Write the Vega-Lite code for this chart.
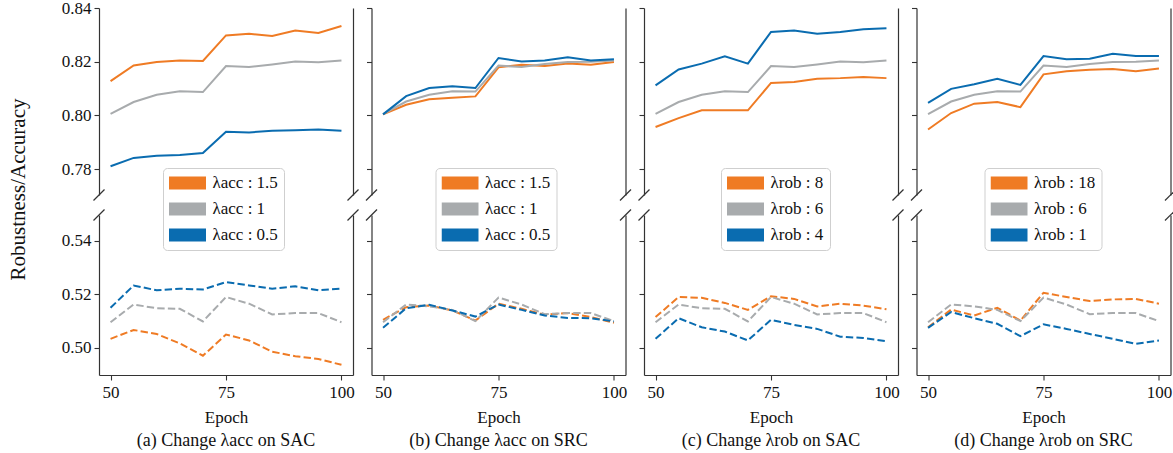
{
"$schema": "https://vega.github.io/schema/vega-lite/v6.json",
"background": "white",
"padding": {"left": 7, "top": -1, "right": 0, "bottom": 0},
"datasets": {
"a_top": [
{"lam":"1.5","epoch":50,"value":0.8128},{"lam":"1.5","epoch":55,"value":0.8186},{"lam":"1.5","epoch":60,"value":0.8199},{"lam":"1.5","epoch":65,"value":0.8205},{"lam":"1.5","epoch":70,"value":0.8203},{"lam":"1.5","epoch":75,"value":0.8298},{"lam":"1.5","epoch":80,"value":0.8304},{"lam":"1.5","epoch":85,"value":0.8296},{"lam":"1.5","epoch":90,"value":0.8316},{"lam":"1.5","epoch":95,"value":0.8307},{"lam":"1.5","epoch":100,"value":0.8333},
{"lam":"1","epoch":50,"value":0.8006},{"lam":"1","epoch":55,"value":0.8050},{"lam":"1","epoch":60,"value":0.8077},{"lam":"1","epoch":65,"value":0.8090},{"lam":"1","epoch":70,"value":0.8087},{"lam":"1","epoch":75,"value":0.8184},{"lam":"1","epoch":80,"value":0.8180},{"lam":"1","epoch":85,"value":0.8190},{"lam":"1","epoch":90,"value":0.8201},{"lam":"1","epoch":95,"value":0.8198},{"lam":"1","epoch":100,"value":0.8205},
{"lam":"0.5","epoch":50,"value":0.7811},{"lam":"0.5","epoch":55,"value":0.7842},{"lam":"0.5","epoch":60,"value":0.7850},{"lam":"0.5","epoch":65,"value":0.7853},{"lam":"0.5","epoch":70,"value":0.7860},{"lam":"0.5","epoch":75,"value":0.7939},{"lam":"0.5","epoch":80,"value":0.7937},{"lam":"0.5","epoch":85,"value":0.7943},{"lam":"0.5","epoch":90,"value":0.7945},{"lam":"0.5","epoch":95,"value":0.7948},{"lam":"0.5","epoch":100,"value":0.7943}
],
"a_bot": [
{"lam":"1.5","epoch":50,"value":0.5034},{"lam":"1.5","epoch":55,"value":0.5067},{"lam":"1.5","epoch":60,"value":0.5052},{"lam":"1.5","epoch":65,"value":0.5017},{"lam":"1.5","epoch":70,"value":0.4971},{"lam":"1.5","epoch":75,"value":0.5050},{"lam":"1.5","epoch":80,"value":0.5028},{"lam":"1.5","epoch":85,"value":0.4986},{"lam":"1.5","epoch":90,"value":0.4969},{"lam":"1.5","epoch":95,"value":0.4959},{"lam":"1.5","epoch":100,"value":0.4937},
{"lam":"1","epoch":50,"value":0.5096},{"lam":"1","epoch":55,"value":0.5162},{"lam":"1","epoch":60,"value":0.5148},{"lam":"1","epoch":65,"value":0.5146},{"lam":"1","epoch":70,"value":0.5099},{"lam":"1","epoch":75,"value":0.5190},{"lam":"1","epoch":80,"value":0.5165},{"lam":"1","epoch":85,"value":0.5125},{"lam":"1","epoch":90,"value":0.5130},{"lam":"1","epoch":95,"value":0.5130},{"lam":"1","epoch":100,"value":0.5096},
{"lam":"0.5","epoch":50,"value":0.5150},{"lam":"0.5","epoch":55,"value":0.5233},{"lam":"0.5","epoch":60,"value":0.5215},{"lam":"0.5","epoch":65,"value":0.5221},{"lam":"0.5","epoch":70,"value":0.5218},{"lam":"0.5","epoch":75,"value":0.5246},{"lam":"0.5","epoch":80,"value":0.5233},{"lam":"0.5","epoch":85,"value":0.5221},{"lam":"0.5","epoch":90,"value":0.5230},{"lam":"0.5","epoch":95,"value":0.5215},{"lam":"0.5","epoch":100,"value":0.5221}
],
"b_top": [
{"lam":"1.5","epoch":50,"value":0.8004},{"lam":"1.5","epoch":55,"value":0.8040},{"lam":"1.5","epoch":60,"value":0.8060},{"lam":"1.5","epoch":65,"value":0.8066},{"lam":"1.5","epoch":70,"value":0.8071},{"lam":"1.5","epoch":75,"value":0.8179},{"lam":"1.5","epoch":80,"value":0.8189},{"lam":"1.5","epoch":85,"value":0.8184},{"lam":"1.5","epoch":90,"value":0.8193},{"lam":"1.5","epoch":95,"value":0.8189},{"lam":"1.5","epoch":100,"value":0.8199},
{"lam":"1","epoch":50,"value":0.8005},{"lam":"1","epoch":55,"value":0.8052},{"lam":"1","epoch":60,"value":0.8077},{"lam":"1","epoch":65,"value":0.8090},{"lam":"1","epoch":70,"value":0.8089},{"lam":"1","epoch":75,"value":0.8186},{"lam":"1","epoch":80,"value":0.8180},{"lam":"1","epoch":85,"value":0.8192},{"lam":"1","epoch":90,"value":0.8199},{"lam":"1","epoch":95,"value":0.8200},{"lam":"1","epoch":100,"value":0.8205},
{"lam":"0.5","epoch":50,"value":0.8004},{"lam":"0.5","epoch":55,"value":0.8072},{"lam":"0.5","epoch":60,"value":0.8102},{"lam":"0.5","epoch":65,"value":0.8109},{"lam":"0.5","epoch":70,"value":0.8102},{"lam":"0.5","epoch":75,"value":0.8214},{"lam":"0.5","epoch":80,"value":0.8201},{"lam":"0.5","epoch":85,"value":0.8205},{"lam":"0.5","epoch":90,"value":0.8217},{"lam":"0.5","epoch":95,"value":0.8205},{"lam":"0.5","epoch":100,"value":0.8209}
],
"b_bot": [
{"lam":"1.5","epoch":50,"value":0.5105},{"lam":"1.5","epoch":55,"value":0.5152},{"lam":"1.5","epoch":60,"value":0.5158},{"lam":"1.5","epoch":65,"value":0.5140},{"lam":"1.5","epoch":70,"value":0.5102},{"lam":"1.5","epoch":75,"value":0.5165},{"lam":"1.5","epoch":80,"value":0.5146},{"lam":"1.5","epoch":85,"value":0.5124},{"lam":"1.5","epoch":90,"value":0.5130},{"lam":"1.5","epoch":95,"value":0.5115},{"lam":"1.5","epoch":100,"value":0.5094},
{"lam":"1","epoch":50,"value":0.5096},{"lam":"1","epoch":55,"value":0.5162},{"lam":"1","epoch":60,"value":0.5155},{"lam":"1","epoch":65,"value":0.5142},{"lam":"1","epoch":70,"value":0.5100},{"lam":"1","epoch":75,"value":0.5188},{"lam":"1","epoch":80,"value":0.5162},{"lam":"1","epoch":85,"value":0.5126},{"lam":"1","epoch":90,"value":0.5130},{"lam":"1","epoch":95,"value":0.5130},{"lam":"1","epoch":100,"value":0.5100},
{"lam":"0.5","epoch":50,"value":0.5075},{"lam":"0.5","epoch":55,"value":0.5148},{"lam":"0.5","epoch":60,"value":0.5161},{"lam":"0.5","epoch":65,"value":0.5140},{"lam":"0.5","epoch":70,"value":0.5117},{"lam":"0.5","epoch":75,"value":0.5162},{"lam":"0.5","epoch":80,"value":0.5142},{"lam":"0.5","epoch":85,"value":0.5121},{"lam":"0.5","epoch":90,"value":0.5112},{"lam":"0.5","epoch":95,"value":0.5111},{"lam":"0.5","epoch":100,"value":0.5099}
],
"c_top": [
{"lam":"8","epoch":50,"value":0.7957},{"lam":"8","epoch":55,"value":0.7990},{"lam":"8","epoch":60,"value":0.8019},{"lam":"8","epoch":65,"value":0.8019},{"lam":"8","epoch":70,"value":0.8019},{"lam":"8","epoch":75,"value":0.8121},{"lam":"8","epoch":80,"value":0.8125},{"lam":"8","epoch":85,"value":0.8137},{"lam":"8","epoch":90,"value":0.8139},{"lam":"8","epoch":95,"value":0.8143},{"lam":"8","epoch":100,"value":0.8139},
{"lam":"6","epoch":50,"value":0.8006},{"lam":"6","epoch":55,"value":0.8050},{"lam":"6","epoch":60,"value":0.8077},{"lam":"6","epoch":65,"value":0.8090},{"lam":"6","epoch":70,"value":0.8087},{"lam":"6","epoch":75,"value":0.8184},{"lam":"6","epoch":80,"value":0.8180},{"lam":"6","epoch":85,"value":0.8190},{"lam":"6","epoch":90,"value":0.8201},{"lam":"6","epoch":95,"value":0.8198},{"lam":"6","epoch":100,"value":0.8205},
{"lam":"4","epoch":50,"value":0.8112},{"lam":"4","epoch":55,"value":0.8171},{"lam":"4","epoch":60,"value":0.8193},{"lam":"4","epoch":65,"value":0.8220},{"lam":"4","epoch":70,"value":0.8193},{"lam":"4","epoch":75,"value":0.8311},{"lam":"4","epoch":80,"value":0.8316},{"lam":"4","epoch":85,"value":0.8304},{"lam":"4","epoch":90,"value":0.8311},{"lam":"4","epoch":95,"value":0.8321},{"lam":"4","epoch":100,"value":0.8325}
],
"c_bot": [
{"lam":"8","epoch":50,"value":0.5115},{"lam":"8","epoch":55,"value":0.5190},{"lam":"8","epoch":60,"value":0.5187},{"lam":"8","epoch":65,"value":0.5168},{"lam":"8","epoch":70,"value":0.5142},{"lam":"8","epoch":75,"value":0.5193},{"lam":"8","epoch":80,"value":0.5183},{"lam":"8","epoch":85,"value":0.5155},{"lam":"8","epoch":90,"value":0.5165},{"lam":"8","epoch":95,"value":0.5158},{"lam":"8","epoch":100,"value":0.5144},
{"lam":"6","epoch":50,"value":0.5096},{"lam":"6","epoch":55,"value":0.5162},{"lam":"6","epoch":60,"value":0.5148},{"lam":"6","epoch":65,"value":0.5146},{"lam":"6","epoch":70,"value":0.5099},{"lam":"6","epoch":75,"value":0.5190},{"lam":"6","epoch":80,"value":0.5165},{"lam":"6","epoch":85,"value":0.5125},{"lam":"6","epoch":90,"value":0.5130},{"lam":"6","epoch":95,"value":0.5130},{"lam":"6","epoch":100,"value":0.5096},
{"lam":"4","epoch":50,"value":0.5034},{"lam":"4","epoch":55,"value":0.5111},{"lam":"4","epoch":60,"value":0.5077},{"lam":"4","epoch":65,"value":0.5061},{"lam":"4","epoch":70,"value":0.5028},{"lam":"4","epoch":75,"value":0.5105},{"lam":"4","epoch":80,"value":0.5086},{"lam":"4","epoch":85,"value":0.5071},{"lam":"4","epoch":90,"value":0.5042},{"lam":"4","epoch":95,"value":0.5037},{"lam":"4","epoch":100,"value":0.5025}
],
"d_top": [
{"lam":"18","epoch":50,"value":0.7948},{"lam":"18","epoch":55,"value":0.8009},{"lam":"18","epoch":60,"value":0.8044},{"lam":"18","epoch":65,"value":0.8050},{"lam":"18","epoch":70,"value":0.8031},{"lam":"18","epoch":75,"value":0.8153},{"lam":"18","epoch":80,"value":0.8165},{"lam":"18","epoch":85,"value":0.8170},{"lam":"18","epoch":90,"value":0.8173},{"lam":"18","epoch":95,"value":0.8165},{"lam":"18","epoch":100,"value":0.8175},
{"lam":"6","epoch":50,"value":0.8005},{"lam":"6","epoch":55,"value":0.8052},{"lam":"6","epoch":60,"value":0.8077},{"lam":"6","epoch":65,"value":0.8090},{"lam":"6","epoch":70,"value":0.8089},{"lam":"6","epoch":75,"value":0.8186},{"lam":"6","epoch":80,"value":0.8180},{"lam":"6","epoch":85,"value":0.8192},{"lam":"6","epoch":90,"value":0.8199},{"lam":"6","epoch":95,"value":0.8200},{"lam":"6","epoch":100,"value":0.8205},
{"lam":"1","epoch":50,"value":0.8047},{"lam":"1","epoch":55,"value":0.8099},{"lam":"1","epoch":60,"value":0.8116},{"lam":"1","epoch":65,"value":0.8137},{"lam":"1","epoch":70,"value":0.8114},{"lam":"1","epoch":75,"value":0.8221},{"lam":"1","epoch":80,"value":0.8209},{"lam":"1","epoch":85,"value":0.8211},{"lam":"1","epoch":90,"value":0.8230},{"lam":"1","epoch":95,"value":0.8221},{"lam":"1","epoch":100,"value":0.8221}
],
"d_bot": [
{"lam":"18","epoch":50,"value":0.5077},{"lam":"18","epoch":55,"value":0.5143},{"lam":"18","epoch":60,"value":0.5121},{"lam":"18","epoch":65,"value":0.5150},{"lam":"18","epoch":70,"value":0.5102},{"lam":"18","epoch":75,"value":0.5206},{"lam":"18","epoch":80,"value":0.5190},{"lam":"18","epoch":85,"value":0.5175},{"lam":"18","epoch":90,"value":0.5181},{"lam":"18","epoch":95,"value":0.5183},{"lam":"18","epoch":100,"value":0.5165},
{"lam":"6","epoch":50,"value":0.5096},{"lam":"6","epoch":55,"value":0.5162},{"lam":"6","epoch":60,"value":0.5155},{"lam":"6","epoch":65,"value":0.5142},{"lam":"6","epoch":70,"value":0.5100},{"lam":"6","epoch":75,"value":0.5188},{"lam":"6","epoch":80,"value":0.5162},{"lam":"6","epoch":85,"value":0.5126},{"lam":"6","epoch":90,"value":0.5130},{"lam":"6","epoch":95,"value":0.5130},{"lam":"6","epoch":100,"value":0.5100},
{"lam":"1","epoch":50,"value":0.5075},{"lam":"1","epoch":55,"value":0.5134},{"lam":"1","epoch":60,"value":0.5111},{"lam":"1","epoch":65,"value":0.5090},{"lam":"1","epoch":70,"value":0.5044},{"lam":"1","epoch":75,"value":0.5088},{"lam":"1","epoch":80,"value":0.5071},{"lam":"1","epoch":85,"value":0.5052},{"lam":"1","epoch":90,"value":0.5034},{"lam":"1","epoch":95,"value":0.5015},{"lam":"1","epoch":100,"value":0.5028}
]
},
"columns": 4,
"spacing": {"row": 20, "column": 18.5},
"bounds": "flush",
"resolve": {"scale": {"color": "independent"}},
"concat": [
{
"width": 254, "height": 187, "data": {"name": "a_top"},
"layer": [
{"mark": {"type": "line", "strokeWidth": 2},
"encoding": {
"x": {"field": "epoch", "type": "quantitative", "scale": {"domain": [47.5, 102.5], "nice": false, "zero": false}, "axis": {"orient": "top", "labels": false, "ticks": false, "title": null}},
"y": {"field": "value", "type": "quantitative", "scale": {"domain": [0.7704, 0.84], "nice": false, "zero": false}, "axis": {"values": [0.78, 0.8, 0.82, 0.84], "format": ".2f", "title": "Robustness/Accuracy", "titleFontSize": 21, "titleX": -71, "titleY": 181, "titleAngle": -90, "titleBaseline": "bottom", "titleAlign": "center"}},
"color": {"field": "lam", "type": "nominal", "scale": {"domain": ["1.5", "1", "0.5"], "range": ["#ef7b24", "#a8abad", "#0a6cb0"]}, "legend": {"orient": "none", "legendX": 64, "legendY": 160, "title": null, "labelExpr": "'λacc : ' + datum.label"}}
}},
{"mark": {"type": "line", "opacity": 0},
"encoding": {
"x": {"field": "epoch", "type": "quantitative", "scale": {"domain": [47.5, 102.5], "nice": false, "zero": false}, "axis": null},
"y": {"field": "value", "type": "quantitative", "scale": {"domain": [0.7704, 0.84], "nice": false, "zero": false}, "axis": {"orient": "right", "labels": false, "ticks": false, "title": null}},
"detail": {"field": "lam", "type": "nominal"}
}},
{"data": {"values": [{}]}, "mark": {"type": "point", "shape": "M-1,1L1,-1", "size": 121, "filled": false, "stroke": "#333", "strokeWidth": 1.2, "opacity": 1},
"encoding": {"x": {"datum": 47.5, "type": "quantitative", "scale": {"domain": [47.5, 102.5], "nice": false, "zero": false}, "axis": null}, "y": {"datum": 0.7704, "type": "quantitative", "scale": {"domain": [0.7704, 0.84], "nice": false, "zero": false}, "axis": null}}},
{"data": {"values": [{}]}, "mark": {"type": "point", "shape": "M-1,1L1,-1", "size": 121, "filled": false, "stroke": "#333", "strokeWidth": 1.2, "opacity": 1},
"encoding": {"x": {"datum": 102.5, "type": "quantitative", "scale": {"domain": [47.5, 102.5], "nice": false, "zero": false}, "axis": null}, "y": {"datum": 0.7704, "type": "quantitative", "scale": {"domain": [0.7704, 0.84], "nice": false, "zero": false}, "axis": null}}}
],
"resolve": {"axis": {"y": "independent"}}
},
{
"width": 254, "height": 187, "data": {"name": "b_top"},
"layer": [
{"mark": {"type": "line", "strokeWidth": 2},
"encoding": {
"x": {"field": "epoch", "type": "quantitative", "scale": {"domain": [47.5, 102.5], "nice": false, "zero": false}, "axis": {"orient": "top", "labels": false, "ticks": false, "title": null}},
"y": {"field": "value", "type": "quantitative", "scale": {"domain": [0.7704, 0.84], "nice": false, "zero": false}, "axis": {"values": [0.78, 0.8, 0.82, 0.84], "labels": false, "title": null}},
"color": {"field": "lam", "type": "nominal", "scale": {"domain": ["1.5", "1", "0.5"], "range": ["#ef7b24", "#a8abad", "#0a6cb0"]}, "legend": {"orient": "none", "legendX": 64, "legendY": 160, "title": null, "labelExpr": "'λacc : ' + datum.label"}}
}},
{"mark": {"type": "line", "opacity": 0},
"encoding": {
"x": {"field": "epoch", "type": "quantitative", "scale": {"domain": [47.5, 102.5], "nice": false, "zero": false}, "axis": null},
"y": {"field": "value", "type": "quantitative", "scale": {"domain": [0.7704, 0.84], "nice": false, "zero": false}, "axis": {"orient": "right", "labels": false, "ticks": false, "title": null}},
"detail": {"field": "lam", "type": "nominal"}
}},
{"data": {"values": [{}]}, "mark": {"type": "point", "shape": "M-1,1L1,-1", "size": 121, "filled": false, "stroke": "#333", "strokeWidth": 1.2, "opacity": 1},
"encoding": {"x": {"datum": 47.5, "type": "quantitative", "scale": {"domain": [47.5, 102.5], "nice": false, "zero": false}, "axis": null}, "y": {"datum": 0.7704, "type": "quantitative", "scale": {"domain": [0.7704, 0.84], "nice": false, "zero": false}, "axis": null}}},
{"data": {"values": [{}]}, "mark": {"type": "point", "shape": "M-1,1L1,-1", "size": 121, "filled": false, "stroke": "#333", "strokeWidth": 1.2, "opacity": 1},
"encoding": {"x": {"datum": 102.5, "type": "quantitative", "scale": {"domain": [47.5, 102.5], "nice": false, "zero": false}, "axis": null}, "y": {"datum": 0.7704, "type": "quantitative", "scale": {"domain": [0.7704, 0.84], "nice": false, "zero": false}, "axis": null}}}
],
"resolve": {"axis": {"y": "independent"}}
},
{
"width": 254, "height": 187, "data": {"name": "c_top"},
"layer": [
{"mark": {"type": "line", "strokeWidth": 2},
"encoding": {
"x": {"field": "epoch", "type": "quantitative", "scale": {"domain": [47.5, 102.5], "nice": false, "zero": false}, "axis": {"orient": "top", "labels": false, "ticks": false, "title": null}},
"y": {"field": "value", "type": "quantitative", "scale": {"domain": [0.7704, 0.84], "nice": false, "zero": false}, "axis": {"values": [0.78, 0.8, 0.82, 0.84], "labels": false, "title": null}},
"color": {"field": "lam", "type": "nominal", "scale": {"domain": ["8", "6", "4"], "range": ["#ef7b24", "#a8abad", "#0a6cb0"]}, "legend": {"orient": "none", "legendX": 77, "legendY": 160, "title": null, "labelExpr": "'λrob : ' + datum.label"}}
}},
{"mark": {"type": "line", "opacity": 0},
"encoding": {
"x": {"field": "epoch", "type": "quantitative", "scale": {"domain": [47.5, 102.5], "nice": false, "zero": false}, "axis": null},
"y": {"field": "value", "type": "quantitative", "scale": {"domain": [0.7704, 0.84], "nice": false, "zero": false}, "axis": {"orient": "right", "labels": false, "ticks": false, "title": null}},
"detail": {"field": "lam", "type": "nominal"}
}},
{"data": {"values": [{}]}, "mark": {"type": "point", "shape": "M-1,1L1,-1", "size": 121, "filled": false, "stroke": "#333", "strokeWidth": 1.2, "opacity": 1},
"encoding": {"x": {"datum": 47.5, "type": "quantitative", "scale": {"domain": [47.5, 102.5], "nice": false, "zero": false}, "axis": null}, "y": {"datum": 0.7704, "type": "quantitative", "scale": {"domain": [0.7704, 0.84], "nice": false, "zero": false}, "axis": null}}},
{"data": {"values": [{}]}, "mark": {"type": "point", "shape": "M-1,1L1,-1", "size": 121, "filled": false, "stroke": "#333", "strokeWidth": 1.2, "opacity": 1},
"encoding": {"x": {"datum": 102.5, "type": "quantitative", "scale": {"domain": [47.5, 102.5], "nice": false, "zero": false}, "axis": null}, "y": {"datum": 0.7704, "type": "quantitative", "scale": {"domain": [0.7704, 0.84], "nice": false, "zero": false}, "axis": null}}}
],
"resolve": {"axis": {"y": "independent"}}
},
{
"width": 254, "height": 187, "data": {"name": "d_top"},
"layer": [
{"mark": {"type": "line", "strokeWidth": 2},
"encoding": {
"x": {"field": "epoch", "type": "quantitative", "scale": {"domain": [47.5, 102.5], "nice": false, "zero": false}, "axis": {"orient": "top", "labels": false, "ticks": false, "title": null}},
"y": {"field": "value", "type": "quantitative", "scale": {"domain": [0.7704, 0.84], "nice": false, "zero": false}, "axis": {"values": [0.78, 0.8, 0.82, 0.84], "labels": false, "title": null}},
"color": {"field": "lam", "type": "nominal", "scale": {"domain": ["18", "6", "1"], "range": ["#ef7b24", "#a8abad", "#0a6cb0"]}, "legend": {"orient": "none", "legendX": 68, "legendY": 160, "title": null, "labelExpr": "'λrob : ' + datum.label"}}
}},
{"mark": {"type": "line", "opacity": 0},
"encoding": {
"x": {"field": "epoch", "type": "quantitative", "scale": {"domain": [47.5, 102.5], "nice": false, "zero": false}, "axis": null},
"y": {"field": "value", "type": "quantitative", "scale": {"domain": [0.7704, 0.84], "nice": false, "zero": false}, "axis": {"orient": "right", "labels": false, "ticks": false, "title": null}},
"detail": {"field": "lam", "type": "nominal"}
}},
{"data": {"values": [{}]}, "mark": {"type": "point", "shape": "M-1,1L1,-1", "size": 121, "filled": false, "stroke": "#333", "strokeWidth": 1.2, "opacity": 1},
"encoding": {"x": {"datum": 47.5, "type": "quantitative", "scale": {"domain": [47.5, 102.5], "nice": false, "zero": false}, "axis": null}, "y": {"datum": 0.7704, "type": "quantitative", "scale": {"domain": [0.7704, 0.84], "nice": false, "zero": false}, "axis": null}}},
{"data": {"values": [{}]}, "mark": {"type": "point", "shape": "M-1,1L1,-1", "size": 121, "filled": false, "stroke": "#333", "strokeWidth": 1.2, "opacity": 1},
"encoding": {"x": {"datum": 102.5, "type": "quantitative", "scale": {"domain": [47.5, 102.5], "nice": false, "zero": false}, "axis": null}, "y": {"datum": 0.7704, "type": "quantitative", "scale": {"domain": [0.7704, 0.84], "nice": false, "zero": false}, "axis": null}}}
],
"resolve": {"axis": {"y": "independent"}}
},
{
"width": 254, "height": 160, "data": {"name": "a_bot"},
"title": {"text": "(a) Change λacc on SAC", "orient": "bottom", "frame": "group", "offset": 7},
"layer": [
{"mark": {"type": "line", "strokeWidth": 2, "strokeDash": [7.4, 3.2]},
"encoding": {
"x": {"field": "epoch", "type": "quantitative", "scale": {"domain": [47.5, 102.5], "nice": false, "zero": false}, "axis": {"orient": "bottom", "values": [50, 75, 100], "title": "Epoch", "titlePadding": 9, "labelPadding": 4}},
"y": {"field": "value", "type": "quantitative", "scale": {"domain": [0.4899, 0.5496], "nice": false, "zero": false}, "axis": {"values": [0.5, 0.52, 0.54], "format": ".2f", "title": null}},
"color": {"field": "lam", "type": "nominal", "scale": {"domain": ["1.5", "1", "0.5"], "range": ["#ef7b24", "#a8abad", "#0a6cb0"]}, "legend": null}
}},
{"mark": {"type": "line", "opacity": 0},
"encoding": {
"x": {"field": "epoch", "type": "quantitative", "scale": {"domain": [47.5, 102.5], "nice": false, "zero": false}},
"y": {"field": "value", "type": "quantitative", "scale": {"domain": [0.4899, 0.5496], "nice": false, "zero": false}, "axis": {"orient": "right", "labels": false, "ticks": false, "title": null}},
"detail": {"field": "lam", "type": "nominal"}
}},
{"data": {"values": [{}]}, "mark": {"type": "point", "shape": "M-1,1L1,-1", "size": 121, "filled": false, "stroke": "#333", "strokeWidth": 1.2, "opacity": 1},
"encoding": {"x": {"datum": 47.5, "type": "quantitative", "scale": {"domain": [47.5, 102.5], "nice": false, "zero": false}}, "y": {"datum": 0.5496, "type": "quantitative", "scale": {"domain": [0.4899, 0.5496], "nice": false, "zero": false}, "axis": null}}},
{"data": {"values": [{}]}, "mark": {"type": "point", "shape": "M-1,1L1,-1", "size": 121, "filled": false, "stroke": "#333", "strokeWidth": 1.2, "opacity": 1},
"encoding": {"x": {"datum": 102.5, "type": "quantitative", "scale": {"domain": [47.5, 102.5], "nice": false, "zero": false}}, "y": {"datum": 0.5496, "type": "quantitative", "scale": {"domain": [0.4899, 0.5496], "nice": false, "zero": false}, "axis": null}}}
],
"resolve": {"axis": {"y": "independent"}}
},
{
"width": 254, "height": 160, "data": {"name": "b_bot"},
"title": {"text": "(b) Change λacc on SRC", "orient": "bottom", "frame": "group", "offset": 7},
"layer": [
{"mark": {"type": "line", "strokeWidth": 2, "strokeDash": [7.4, 3.2]},
"encoding": {
"x": {"field": "epoch", "type": "quantitative", "scale": {"domain": [47.5, 102.5], "nice": false, "zero": false}, "axis": {"orient": "bottom", "values": [50, 75, 100], "title": "Epoch", "titlePadding": 9, "labelPadding": 4}},
"y": {"field": "value", "type": "quantitative", "scale": {"domain": [0.4899, 0.5496], "nice": false, "zero": false}, "axis": {"values": [0.5, 0.52, 0.54], "labels": false, "title": null}},
"color": {"field": "lam", "type": "nominal", "scale": {"domain": ["1.5", "1", "0.5"], "range": ["#ef7b24", "#a8abad", "#0a6cb0"]}, "legend": null}
}},
{"mark": {"type": "line", "opacity": 0},
"encoding": {
"x": {"field": "epoch", "type": "quantitative", "scale": {"domain": [47.5, 102.5], "nice": false, "zero": false}},
"y": {"field": "value", "type": "quantitative", "scale": {"domain": [0.4899, 0.5496], "nice": false, "zero": false}, "axis": {"orient": "right", "labels": false, "ticks": false, "title": null}},
"detail": {"field": "lam", "type": "nominal"}
}},
{"data": {"values": [{}]}, "mark": {"type": "point", "shape": "M-1,1L1,-1", "size": 121, "filled": false, "stroke": "#333", "strokeWidth": 1.2, "opacity": 1},
"encoding": {"x": {"datum": 47.5, "type": "quantitative", "scale": {"domain": [47.5, 102.5], "nice": false, "zero": false}}, "y": {"datum": 0.5496, "type": "quantitative", "scale": {"domain": [0.4899, 0.5496], "nice": false, "zero": false}, "axis": null}}},
{"data": {"values": [{}]}, "mark": {"type": "point", "shape": "M-1,1L1,-1", "size": 121, "filled": false, "stroke": "#333", "strokeWidth": 1.2, "opacity": 1},
"encoding": {"x": {"datum": 102.5, "type": "quantitative", "scale": {"domain": [47.5, 102.5], "nice": false, "zero": false}}, "y": {"datum": 0.5496, "type": "quantitative", "scale": {"domain": [0.4899, 0.5496], "nice": false, "zero": false}, "axis": null}}}
],
"resolve": {"axis": {"y": "independent"}}
},
{
"width": 254, "height": 160, "data": {"name": "c_bot"},
"title": {"text": "(c) Change λrob on SAC", "orient": "bottom", "frame": "group", "offset": 7},
"layer": [
{"mark": {"type": "line", "strokeWidth": 2, "strokeDash": [7.4, 3.2]},
"encoding": {
"x": {"field": "epoch", "type": "quantitative", "scale": {"domain": [47.5, 102.5], "nice": false, "zero": false}, "axis": {"orient": "bottom", "values": [50, 75, 100], "title": "Epoch", "titlePadding": 9, "labelPadding": 4}},
"y": {"field": "value", "type": "quantitative", "scale": {"domain": [0.4899, 0.5496], "nice": false, "zero": false}, "axis": {"values": [0.5, 0.52, 0.54], "labels": false, "title": null}},
"color": {"field": "lam", "type": "nominal", "scale": {"domain": ["8", "6", "4"], "range": ["#ef7b24", "#a8abad", "#0a6cb0"]}, "legend": null}
}},
{"mark": {"type": "line", "opacity": 0},
"encoding": {
"x": {"field": "epoch", "type": "quantitative", "scale": {"domain": [47.5, 102.5], "nice": false, "zero": false}},
"y": {"field": "value", "type": "quantitative", "scale": {"domain": [0.4899, 0.5496], "nice": false, "zero": false}, "axis": {"orient": "right", "labels": false, "ticks": false, "title": null}},
"detail": {"field": "lam", "type": "nominal"}
}},
{"data": {"values": [{}]}, "mark": {"type": "point", "shape": "M-1,1L1,-1", "size": 121, "filled": false, "stroke": "#333", "strokeWidth": 1.2, "opacity": 1},
"encoding": {"x": {"datum": 47.5, "type": "quantitative", "scale": {"domain": [47.5, 102.5], "nice": false, "zero": false}}, "y": {"datum": 0.5496, "type": "quantitative", "scale": {"domain": [0.4899, 0.5496], "nice": false, "zero": false}, "axis": null}}},
{"data": {"values": [{}]}, "mark": {"type": "point", "shape": "M-1,1L1,-1", "size": 121, "filled": false, "stroke": "#333", "strokeWidth": 1.2, "opacity": 1},
"encoding": {"x": {"datum": 102.5, "type": "quantitative", "scale": {"domain": [47.5, 102.5], "nice": false, "zero": false}}, "y": {"datum": 0.5496, "type": "quantitative", "scale": {"domain": [0.4899, 0.5496], "nice": false, "zero": false}, "axis": null}}}
],
"resolve": {"axis": {"y": "independent"}}
},
{
"width": 254, "height": 160, "data": {"name": "d_bot"},
"title": {"text": "(d) Change λrob on SRC", "orient": "bottom", "frame": "group", "offset": 7},
"layer": [
{"mark": {"type": "line", "strokeWidth": 2, "strokeDash": [7.4, 3.2]},
"encoding": {
"x": {"field": "epoch", "type": "quantitative", "scale": {"domain": [47.5, 102.5], "nice": false, "zero": false}, "axis": {"orient": "bottom", "values": [50, 75, 100], "title": "Epoch", "titlePadding": 9, "labelPadding": 4}},
"y": {"field": "value", "type": "quantitative", "scale": {"domain": [0.4899, 0.5496], "nice": false, "zero": false}, "axis": {"values": [0.5, 0.52, 0.54], "labels": false, "title": null}},
"color": {"field": "lam", "type": "nominal", "scale": {"domain": ["18", "6", "1"], "range": ["#ef7b24", "#a8abad", "#0a6cb0"]}, "legend": null}
}},
{"mark": {"type": "line", "opacity": 0},
"encoding": {
"x": {"field": "epoch", "type": "quantitative", "scale": {"domain": [47.5, 102.5], "nice": false, "zero": false}},
"y": {"field": "value", "type": "quantitative", "scale": {"domain": [0.4899, 0.5496], "nice": false, "zero": false}, "axis": {"orient": "right", "labels": false, "ticks": false, "title": null}},
"detail": {"field": "lam", "type": "nominal"}
}},
{"data": {"values": [{}]}, "mark": {"type": "point", "shape": "M-1,1L1,-1", "size": 121, "filled": false, "stroke": "#333", "strokeWidth": 1.2, "opacity": 1},
"encoding": {"x": {"datum": 47.5, "type": "quantitative", "scale": {"domain": [47.5, 102.5], "nice": false, "zero": false}}, "y": {"datum": 0.5496, "type": "quantitative", "scale": {"domain": [0.4899, 0.5496], "nice": false, "zero": false}, "axis": null}}},
{"data": {"values": [{}]}, "mark": {"type": "point", "shape": "M-1,1L1,-1", "size": 121, "filled": false, "stroke": "#333", "strokeWidth": 1.2, "opacity": 1},
"encoding": {"x": {"datum": 102.5, "type": "quantitative", "scale": {"domain": [47.5, 102.5], "nice": false, "zero": false}}, "y": {"datum": 0.5496, "type": "quantitative", "scale": {"domain": [0.4899, 0.5496], "nice": false, "zero": false}, "axis": null}}}
],
"resolve": {"axis": {"y": "independent"}}
}
],
"config": {
"view": {"stroke": null},
"font": "Liberation Serif",
"axis": {"grid": false, "domainColor": "#333", "domainWidth": 1.2, "tickColor": "#333", "tickWidth": 1.1, "tickSize": 5, "labelFont": "Liberation Serif", "labelFontSize": 17, "labelColor": "#111", "labelPadding": 3, "titleFont": "Liberation Serif", "titleFontWeight": "normal", "titleColor": "#111", "titleFontSize": 17},
"legend": {"symbolType": "stroke", "symbolSize": 1369, "symbolStrokeWidth": 13, "symbolOffset": -6.5, "symbolOpacity": 1, "clipHeight": 18, "rowPadding": 8, "labelOffset": 0, "padding": 6, "labelFont": "Liberation Serif", "labelFontSize": 17, "labelColor": "#111", "labelLimit": 200, "fillColor": "white", "strokeColor": "#cfcfcf", "cornerRadius": 4},
"title": {"font": "Liberation Serif", "fontSize": 18, "fontWeight": "normal", "color": "#111"}
}
}
